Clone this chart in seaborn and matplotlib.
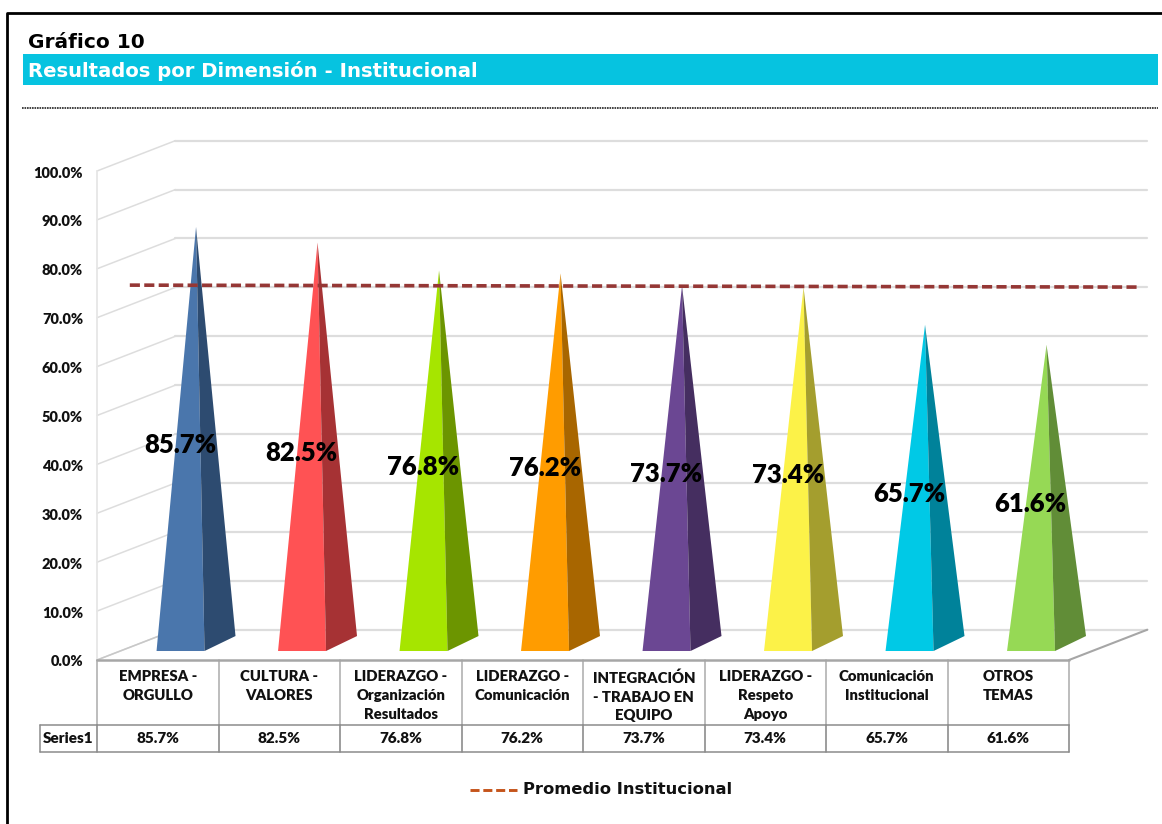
import matplotlib
matplotlib.use("Agg")
import matplotlib.pyplot as plt
from matplotlib.lines import Line2D
from matplotlib.patches import Polygon, Rectangle
from matplotlib.transforms import ScaledTranslation
import pandas as pd
import seaborn as sns

# Chart data
categories = [
    "EMPRESA -\nORGULLO",
    "CULTURA -\nVALORES",
    "LIDERAZGO -\nOrganización\nResultados",
    "LIDERAZGO -\nComunicación",
    "INTEGRACIÓN\n- TRABAJO EN\nEQUIPO",
    "LIDERAZGO -\nRespeto\nApoyo",
    "Comunicación\nInstitucional",
    "OTROS\nTEMAS",
]
values = [85.7, 82.5, 76.8, 76.2, 73.7, 73.4, 65.7, 61.6]
promedio = [73.8, 73.4]
promedio_pos = [-0.23, 8.08]
y_ticks = [0, 10, 20, 30, 40, 50, 60, 70, 80, 90, 100]

front_colors = ["#4A76AC", "#FF5254", "#A6E500", "#FF9C00",
                "#6B4793", "#FCF248", "#00C9E6", "#96D955"]
side_colors = ["#2D4B70", "#A63234", "#6C9500", "#A86600",
               "#452E60", "#A49E2E", "#00829A", "#618D37"]

W, H = 1162, 824
sns.set_theme(style="white")
plt.rcParams["font.family"] = ["Lato", "DejaVu Sans"]
fig = plt.figure(figsize=(W / 100, H / 100), dpi=100, facecolor="white")


def fx(px):
    return px / W


def fy(py):
    return 1 - py / H


# Plot area covers the front plane of the 3D box
ax = fig.add_axes([fx(97), fy(660), fx(1069) - fx(97), fy(171) - fy(660)])
ax.patch.set_alpha(0)

df = pd.DataFrame({"categoria": categories, "valor": values})
sns.barplot(data=df, x="categoria", y="valor", alpha=0, ax=ax, width=0.8)
ax.set_xlim(-0.5, 7.5)
ax.set_ylim(0, 100)
ax.set_xlabel("")
ax.set_ylabel("")
sns.despine(ax=ax, left=True, bottom=True)

# Depth of the 3D box in data units
dx, dy = 0.645, 6.2
wall = "#DDDDDD"
for t in y_ticks:
    ax.plot([-0.5, -0.5 + dx], [t, t + dy], color=wall, lw=1.1, clip_on=False, zorder=1)
    ax.plot([-0.5 + dx, 7.5 + dx], [t + dy, t + dy], color=wall, lw=1.6, clip_on=False, zorder=1)
ax.plot([-0.5, -0.5], [0, 100], color="#E6E6E6", lw=1.3, clip_on=False, zorder=1)
ax.plot([7.5, 7.5 + dx], [0, dy], color="#A6A6A6", lw=1.5, clip_on=False, zorder=1)
ax.plot([-0.5, -0.5 + dx], [0, dy], color="#C8C8C8", lw=1.1, clip_on=False, zorder=1)

# Pyramids: two visible faces rising from each value
base_front, base_back, apex_lift = 1.84, 4.9, 2.86
for i, v in enumerate(values):
    apex = (i + 0.315, v + apex_lift)
    fl = (i - 0.01, base_front)
    fr = (i + 0.385, base_front)
    br = (i + 0.64, base_back)
    ax.add_patch(Polygon([fl, fr, apex], closed=True, fc=front_colors[i], ec="none",
                         clip_on=False, zorder=3))
    ax.add_patch(Polygon([fr, br, apex], closed=True, fc=side_colors[i], ec="none",
                         clip_on=False, zorder=3))
    ax.text(i + 0.185, v / 2 + 1.1, f"{v:.1f}%", ha="center", va="center",
            fontsize=18.5, fontweight="heavy", color="black", zorder=6)

# Average line across the chart, placed on the back wall
sns.lineplot(x=promedio_pos, y=[p + apex_lift for p in promedio], ax=ax, color="#953735",
             lw=2.6, linestyle=(0, (2.8, 1.2)), zorder=5, legend=False)
ax.lines[-1].set_clip_on(False)

ax.set_yticks(y_ticks)
ax.set_yticklabels([f"{t:.1f}%" for t in y_ticks], fontsize=10.5, fontweight="heavy", color="#111111")
ax.tick_params(axis="y", length=0, pad=10)
ax.tick_params(axis="x", length=0, pad=7.5)
shift = ScaledTranslation(0, -1 / 100, fig.dpi_scale_trans)
for lab in ax.get_yticklabels():
    lab.set_transform(lab.get_transform() + shift)
for lab in ax.get_xticklabels():
    lab.set_fontsize(10.7)
    lab.set_fontweight("heavy")
    lab.set_color("#111111")
    lab.set_linespacing(1.52)
    lab.set_va("top")

# Data table below the plot
grid = "#8C8C8C"
header_grid = "#ABABAB"
row1 = -65 / 4.89
row2 = -92 / 4.89
for j in range(9):
    ax.plot([j - 0.5, j - 0.5], [0, row1], color=header_grid, lw=1.1, clip_on=False, zorder=2)
    ax.plot([j - 0.5, j - 0.5], [row1, row2], color=grid, lw=1.2, clip_on=False, zorder=2)
ax.plot([-0.5, 7.5], [0, 0], color="#A6A6A6", lw=1.8, clip_on=False, zorder=2)
left = -0.5 - 57 / 121.5
for y in (row1, row2):
    ax.plot([left, 7.5], [y, y], color=grid, lw=1.1, clip_on=False, zorder=2)
ax.plot([left, left], [row1, row2], color=grid, lw=1.1, clip_on=False, zorder=2)
ax.text((left - 0.5) / 2, (row1 + row2) / 2, "Series1", ha="center", va="center",
        fontsize=11, fontweight="heavy", color="#111111")
for i, v in enumerate(values):
    ax.text(i, (row1 + row2) / 2, f"{v:.1f}%", ha="center", va="center",
            fontsize=11, fontweight="heavy", color="#111111")

# Page furniture: frame, title band, divider and legend
fig.add_artist(Line2D([fx(7), fx(7), 1], [0, fy(13), fy(13)], color="black", lw=2))
fig.add_artist(Rectangle((fx(23), fy(85)), fx(1135), 31 / H, fc="#06C3E0", ec="none",
                         transform=fig.transFigure))
fig.add_artist(Line2D([fx(22), fx(1158)], [fy(108), fy(108)], color="#222222", lw=1.2,
                      linestyle=(0, (1, 0.5))))
fig.text(fx(28), fy(42), "Gráfico 10", family="DejaVu Sans", fontweight="bold",
         fontsize=14.5, color="black", va="center")
fig.text(fx(28), fy(71), "Resultados por Dimensión - Institucional", family="DejaVu Sans",
         fontweight="bold", fontsize=14.15, color="white", va="center")
fig.add_artist(Line2D([fx(470), fx(517)], [fy(790), fy(790)], color="#C5541B", lw=2.1,
                      linestyle=(0, (3.1, 1.3))))
fig.text(fx(523), fy(789), "Promedio Institucional", family="DejaVu Sans", fontweight="bold",
         fontsize=11.8, color="#111111", va="center")

fig.savefig("out.png", dpi=100, facecolor="white")
